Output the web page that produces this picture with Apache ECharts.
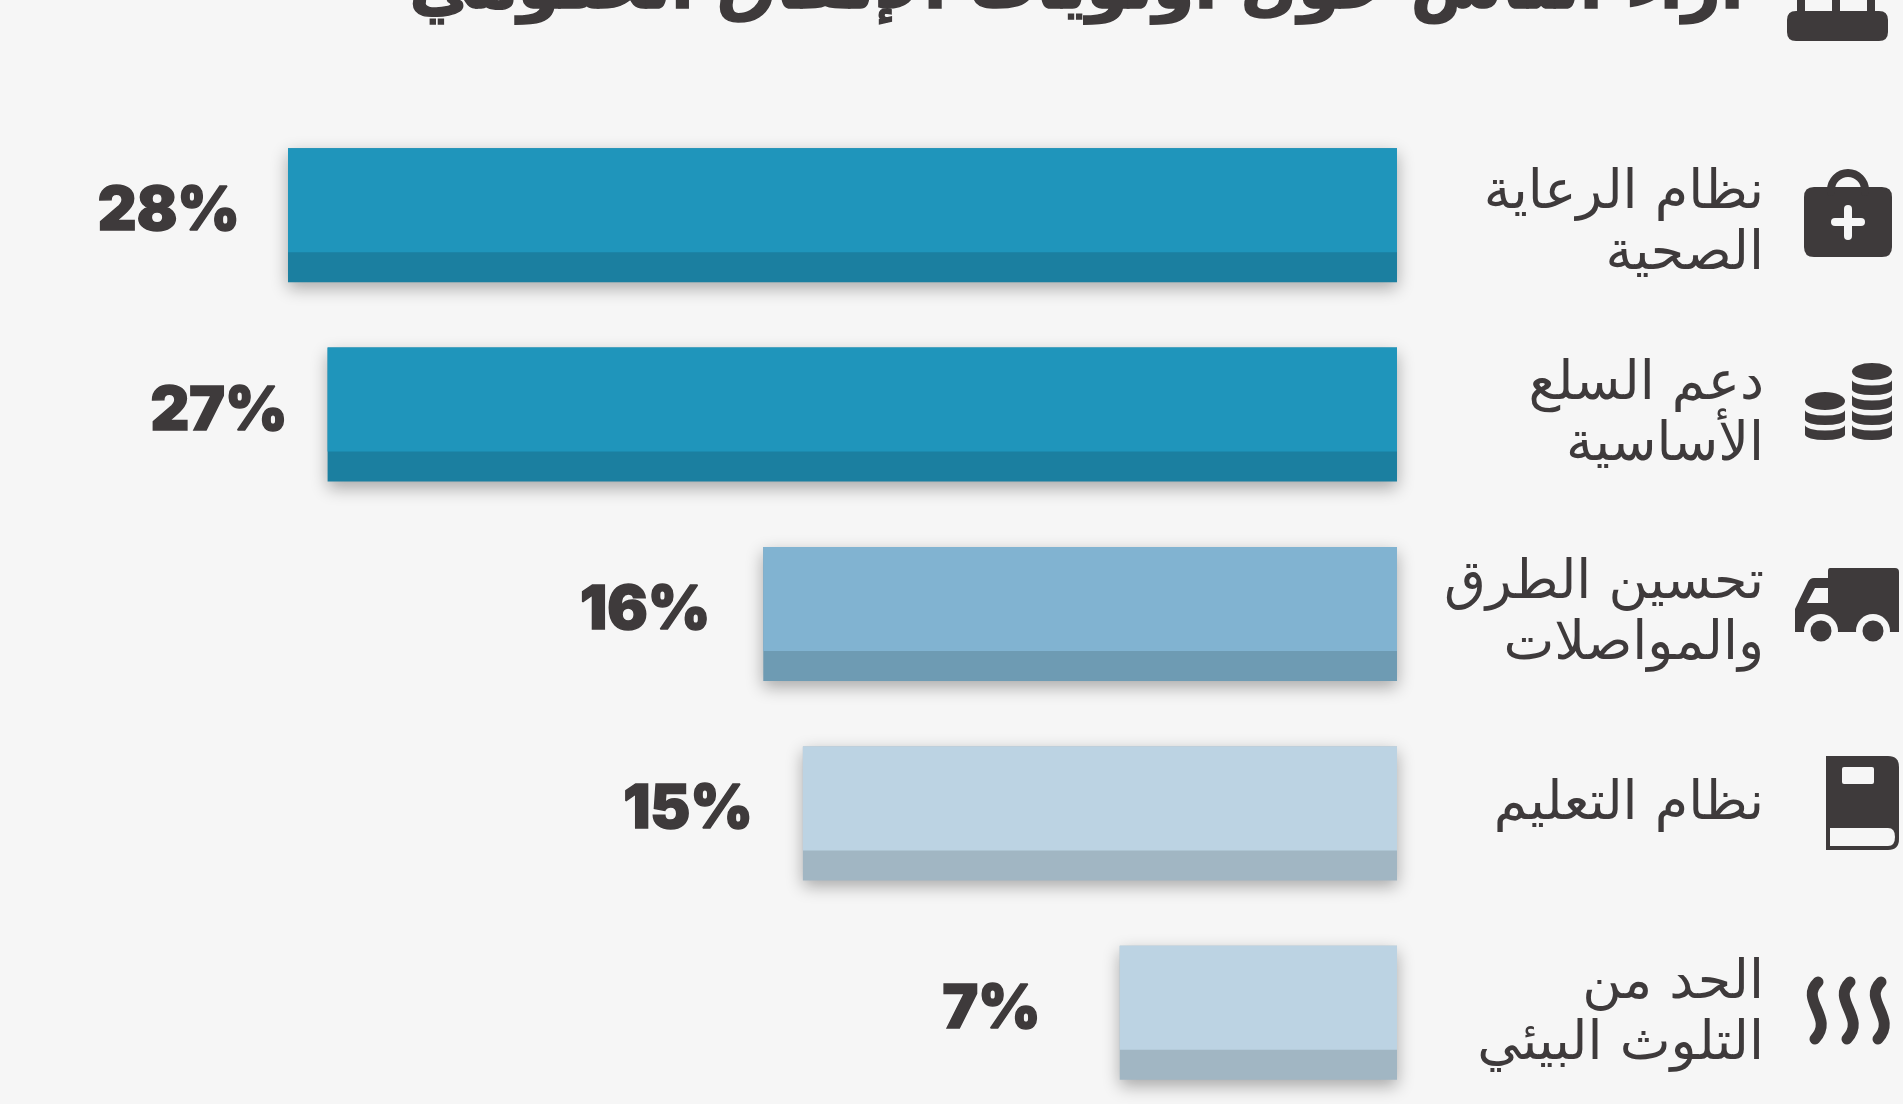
<!DOCTYPE html>
<html lang="ar">
<head>
<meta charset="utf-8">
<style>html,body{margin:0;padding:0;background:#f6f6f6;overflow:hidden;height:1104px}#c{width:1903px;height:1200px}</style>
<script src="https://cdn.jsdelivr.net/npm/echarts@6/dist/echarts.min.js"></script>
</head>
<body>
<div id="c"></div>
<script>
const titleText = 'آراء الناس حول أولويات الإنفاق الحكومي';
const categories = ['نظام الرعاية\nالصحية', 'دعم السلع\nالأساسية', 'تحسين الطرق\nوالمواصلات', 'نظام التعليم', 'الحد من\nالتلوث البيئي'];
const values = [28, 27, 16, 15, 7];
const topColors = ['#1f95bb', '#1f95bb', '#81b3d1', '#bcd3e3', '#bcd3e3'];
const lowColors = ['#1b7fa0', '#1b7fa0', '#6e9bb3', '#a1b6c3', '#a1b6c3'];
const labelGaps = [48, 40, 53, 50, 79];
const categoryShifts = [9, 1, 0, -8, 2];

const INK = '#3e3a3b', BG = '#f6f6f6';
const BAR_H = 134, LOW_H = 30, CATEGORY_GAP = 367;

function ring(x, y, r) { return `M${x - r},${y}A${r},${r} 0 1 0 ${x + r},${y}A${r},${r} 0 1 0 ${x - r},${y}Z`; }
function rr(x0, y0, x1, y1, r) { return `M${x0 + r},${y0}H${x1 - r}Q${x1},${y0} ${x1},${y0 + r}V${y1 - r}Q${x1},${y1} ${x1 - r},${y1}H${x0 + r}Q${x0},${y1} ${x0},${y1 - r}V${y0 + r}Q${x0},${y0} ${x0 + r},${y0}Z`; }
function coin(l, r, y) { const rx = (r - l) / 2; return `M${l},${y}A${rx},5.5 0 0 0 ${r},${y}V${y + 9.5}A${rx},5.5 0 0 1 ${l},${y + 9.5}Z`; }
function disc(l, r, y0, y1) { const rx = (r - l) / 2, ry = (y1 - y0) / 2; return `M${l},${y0 + ry}A${rx},${ry} 0 1 0 ${r},${y0 + ry}A${rx},${ry} 0 1 0 ${l},${y0 + ry}Z`; }
let shapeCount = 0;
function shapeOf(d) {
  const name = 'iconShape' + (shapeCount++);
  echarts.graphic.registerShape(name, echarts.graphic.extendPath(d, {}));
  return name;
}
function pathEl(d, fill) { return { type: shapeOf(d), silent: true, style: { fill: fill || INK } }; }
function strokeEl(d, w) { return { type: shapeOf(d), silent: true, style: { fill: 'none', stroke: INK, lineWidth: w, lineCap: 'round' } }; }
const wave = x => strokeEl(`M${x + 3},982C${x - 16},1000 ${x + 20},1018 ${x},1039`, 11);

const icons = [
  // top icon
  pathEl(rr(1787, 11, 1888, 41, 9)),
  pathEl('M1797,0H1805V12H1797Z M1832,0H1840V12H1832Z M1867,0H1875V12H1867Z'),
  // medical bag
  pathEl(rr(1804, 187, 1892, 257, 10)),
  strokeEl('M1831,192V190A17,17 0 0 1 1865,190V192', 8),
  pathEl(rr(1844, 205, 1852, 240, 4), BG),
  pathEl(rr(1831, 218, 1865, 226, 4), BG),
  // coins
  pathEl(disc(1852, 1892, 363, 380)), pathEl(coin(1852, 1892, 380)), pathEl(coin(1852, 1892, 395)), pathEl(coin(1852, 1892, 410)), pathEl(coin(1852, 1892, 425)),
  pathEl(disc(1805, 1845, 392, 410)), pathEl(coin(1805, 1845, 410)), pathEl(coin(1805, 1845, 425)),
  // truck
  pathEl('M1830,568H1895Q1899,568 1899,572V632H1795V609L1808,582Q1810,578 1814,578H1828V571Q1828,568 1830,568Z'),
  pathEl('M1807,603L1815,588H1828V603Z', BG),
  pathEl(ring(1821, 631, 17), BG), pathEl(ring(1873, 631, 17), BG),
  pathEl(ring(1821, 631, 10.5)), pathEl(ring(1873, 631, 10.5)),
  // book
  pathEl('M1826,756H1888Q1899,756 1899,767V839Q1899,850 1888,850H1826Z'),
  pathEl('M1830,828H1888Q1895,828 1895,837Q1895,846 1888,846H1830Z', BG),
  pathEl(rr(1842, 767, 1874, 784, 2), BG),
  // steam
  wave(1815), wave(1847), wave(1878)
];

const chart = echarts.init(document.getElementById('c'));
chart.setOption({
  backgroundColor: BG,
  animation: false,
  title: {
    text: titleText, right: 153, top: -48,
    textStyle: { fontFamily: '"DejaVu Sans"', fontWeight: 'bold', fontSize: 66.5, color: INK, textBorderColor: INK, textBorderWidth: 1.5 }
  },
  grid: { left: 288, width: 1109, top: 115.5, height: 997 },
  xAxis: { type: 'value', inverse: true, min: 0, max: 28, show: false },
  yAxis: {
    type: 'category', inverse: true, data: categories, position: 'right',
    axisLine: { show: false }, axisTick: { show: false }, axisLabel: { show: false }
  },
  series: [{
    type: 'custom', clip: false,
    encode: { x: 0, y: 1 },
    data: values.map((v, i) => [v, i]),
    renderItem(params, api) {
      const i = api.value(1);
      const a = api.coord([api.value(0), i]);
      const b = api.coord([0, i]);
      const w = b[0] - a[0], y = a[1] - BAR_H / 2;
      return {
        type: 'group',
        children: [
          { type: 'rect', shape: { x: a[0], y, width: w, height: BAR_H },
            style: { fill: lowColors[i], shadowColor: 'rgba(0,0,0,0.32)', shadowBlur: 16, shadowOffsetY: 6, shadowOffsetX: 0 } },
          { type: 'rect', shape: { x: a[0], y, width: w, height: BAR_H - LOW_H }, style: { fill: topColors[i] } },
          { type: 'text', style: { text: values[i] + '%', x: a[0] - labelGaps[i], y: a[1] - 3, align: 'right', verticalAlign: 'middle',
              fontFamily: 'Inter', fontWeight: 900, fontSize: 60, fill: INK, stroke: INK, lineWidth: 1.5 } },
          { type: 'text', style: { text: categories[i], x: b[0] + CATEGORY_GAP, y: a[1] + categoryShifts[i], align: 'right', verticalAlign: 'middle',
              fontFamily: '"DejaVu Sans"', fontSize: 54, lineHeight: 61, fill: INK } }
        ]
      };
    }
  }],
  graphic: { elements: icons }
});
</script>
</body>
</html>
